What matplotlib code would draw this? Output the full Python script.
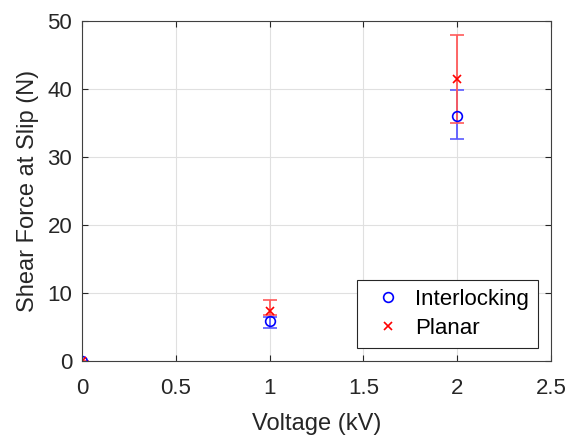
import matplotlib
matplotlib.use('Agg')
import matplotlib.pyplot as plt

plt.rcParams['font.family'] = ['Liberation Sans', 'DejaVu Sans']

voltage = [0, 1, 2]
interlocking = [0, 5.9, 36.0]
interlocking_err_low = [0, 1.0, 3.4]
interlocking_err_high = [0, 0.6, 3.9]
planar = [0, 7.35, 41.4]
planar_err_low = [0, 0.55, 6.4]
planar_err_high = [0, 1.65, 6.5]

fig = plt.figure(figsize=(5.69, 4.36), dpi=100)
ax = fig.add_axes([0.1441, 0.172, 0.8243, 0.780])

ax.errorbar(voltage, interlocking, yerr=[interlocking_err_low, interlocking_err_high],
            fmt='o', color='#0000ff', ecolor='#5a5aff', mfc='none', ms=7, mew=1.2,
            elinewidth=1.3, capsize=5, label='Interlocking')
ax.errorbar(voltage, planar, yerr=[planar_err_low, planar_err_high],
            fmt='x', color='#ff0000', ecolor='#ff5a5a', ms=6, mew=1.2,
            elinewidth=1.3, capsize=5, label='Planar')

ax.set_xlim(0, 2.5)
ax.set_ylim(0, 50)
ax.set_xticks([0, 0.5, 1, 1.5, 2, 2.5])
ax.set_xticklabels(['0', '0.5', '1', '1.5', '2', '2.5'])
ax.set_yticks([0, 10, 20, 30, 40, 50])
ax.grid(True, color='#e0e0e0', linewidth=0.8)
ax.set_axisbelow(True)
for s in ax.spines.values():
    s.set_color('#404040')
ax.tick_params(labelsize=16, colors='#262626', direction='in', length=4,
               top=True, right=True)
ax.tick_params(axis='x', pad=12)
ax.tick_params(axis='y', pad=7)
ax.set_xlabel('Voltage (kV)', fontsize=17, color='#262626', labelpad=10)
ax.set_ylabel('Shear Force at Slip (N)', fontsize=17, color='#262626', labelpad=6)

handles, labels = ax.get_legend_handles_labels()
handles = [h[0] for h in handles]
leg = ax.legend(handles, labels, loc='lower right', fontsize=16, fancybox=False,
                framealpha=1, edgecolor='#262626', handlelength=2.0,
                handletextpad=0.2, borderaxespad=0.6, borderpad=0.4,
                labelspacing=0.35)
leg.get_frame().set_linewidth(0.8)

fig.savefig('out.png', dpi=100)
